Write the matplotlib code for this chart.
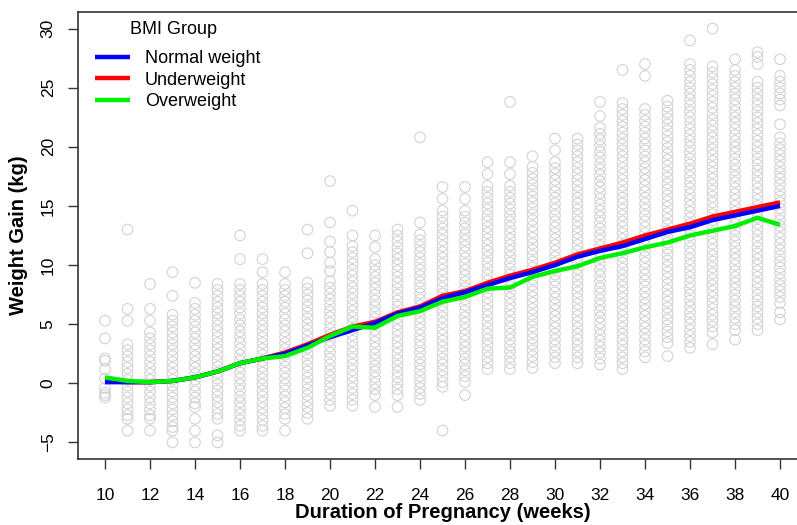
import matplotlib
matplotlib.use("Agg")
import matplotlib.pyplot as plt

plt.rcParams['font.family'] = ['Liberation Sans', 'DejaVu Sans']

# ---- data ----
weeks = list(range(10, 41))
normal_weight = [0.1, 0.1, 0.1, 0.2, 0.5, 1.0, 1.7, 2.1, 2.5, 3.2, 3.9, 4.5, 5.1, 5.9, 6.4, 7.2,
                 7.7, 8.3, 8.9, 9.4, 10.0, 10.7, 11.2, 11.6, 12.2, 12.8, 13.2, 13.8, 14.2, 14.6, 15.0]
underweight = [0.2, 0.1, 0.1, 0.2, 0.5, 1.0, 1.7, 2.1, 2.6, 3.3, 4.1, 4.8, 5.2, 6.0, 6.5, 7.4,
               7.8, 8.5, 9.1, 9.6, 10.2, 10.9, 11.4, 11.9, 12.5, 13.0, 13.5, 14.1, 14.5, 14.9, 15.3]
overweight = [0.5, 0.2, 0.1, 0.2, 0.5, 1.0, 1.7, 2.1, 2.3, 3.0, 4.0, 4.8, 4.7, 5.7, 6.1, 6.9,
              7.3, 8.0, 8.1, 9.0, 9.5, 9.9, 10.6, 11.0, 11.5, 11.9, 12.5, 12.9, 13.3, 14.0, 13.4]

w10 = [5.3, 3.8, 2.1, 1.9, 1.2, 0.4, -0.4, -0.8, -1.0, -1.2]
w11 = [13.0, 6.3, 5.3, 3.3, 2.8, 2.3, 1.8, 1.3, 0.8, 0.3, -0.2, -0.7, -1.2, -1.7, -2.2, -2.7, -3.0, -4.0]
w12 = [8.4, 6.3, 5.3, 4.3, 3.8, 3.3, 2.8, 2.3, 1.8, 1.3, 0.8, 0.3, -0.2, -0.7, -1.2, -1.7, -2.2, -2.7,
       -3.0, -4.0]
w13 = [9.4, 7.4, 5.8, 5.3, 4.8, 4.3, 3.8, 3.3, 2.8, 2.3, 1.8, 1.3, 0.8, 0.3, -0.2, -0.7, -1.2, -1.7,
       -2.2, -2.7, -3.2, -3.7, -4.0, -5.0]
w14 = [8.5, 6.8, 6.3, 5.8, 5.3, 4.8, 4.3, 3.8, 3.3, 2.8, 2.3, 1.8, 1.3, 0.8, 0.3, -0.2, -0.7, -1.2,
       -1.7, -2.0, -3.0, -4.0, -5.0]
w15 = [8.4, 7.9, 7.4, 6.9, 6.4, 5.9, 5.4, 4.9, 4.4, 3.9, 3.4, 2.9, 2.4, 1.9, 1.4, 0.9, 0.4, -0.1,
       -0.6, -1.1, -1.6, -2.1, -2.6, -3.0, -4.4, -5.0]
w16 = [12.5, 10.5, 8.4, 7.9, 7.4, 6.9, 6.4, 5.9, 5.4, 4.9, 4.4, 3.9, 3.4, 2.9, 2.4, 1.9, 1.4, 0.9,
       0.4, -0.1, -0.6, -1.1, -1.6, -2.1, -2.6, -3.1, -3.6, -4.0]
w17 = [10.5, 9.4, 8.4, 7.9, 7.4, 6.9, 6.4, 5.9, 5.4, 4.9, 4.4, 3.9, 3.4, 2.9, 2.4, 1.9, 1.4, 0.9,
       0.4, -0.1, -0.6, -1.1, -1.6, -2.1, -2.6, -3.1, -3.6, -4.0]
w18 = [9.4, 8.4, 7.9, 7.4, 6.9, 6.4, 5.9, 5.4, 4.9, 4.4, 3.9, 3.4, 2.9, 2.4, 1.9, 1.4, 0.9, 0.4,
       -0.1, -0.6, -1.1, -1.6, -2.1, -2.6, -3.0, -4.0]
w19 = [13.0, 11.0, 8.5, 8.0, 7.5, 7.0, 6.5, 6.0, 5.5, 5.0, 4.5, 4.0, 3.5, 3.0, 2.5, 2.0, 1.5, 1.0,
       0.5, 0.0, -0.5, -1.0, -1.5, -2.0, -2.5, -3.0]
w20 = [17.1, 13.6, 12.0, 11.1, 10.2, 9.5, 8.6, 8.1, 7.6, 7.1, 6.6, 6.1, 5.6, 5.1, 4.6, 4.1, 3.6, 3.1,
       2.6, 2.1, 1.6, 1.1, 0.6, 0.1, -0.4, -0.9, -1.4, -1.9]
w21 = [14.6, 12.5, 11.6, 11.1, 10.6, 10.1, 9.6, 9.1, 8.6, 8.1, 7.6, 7.1, 6.6, 6.1, 5.6, 5.1, 4.6,
       4.1, 3.6, 3.1, 2.6, 2.1, 1.6, 1.1, 0.6, 0.1, -0.4, -0.9, -1.4, -1.9]
w22 = [12.5, 11.5, 10.5, 10.0, 9.5, 9.0, 8.5, 8.0, 7.5, 7.0, 6.5, 6.0, 5.5, 5.0, 4.5, 4.0, 3.5, 3.0,
       2.5, 2.0, 1.5, 1.0, 0.5, 0.0, -0.5, -1.0, -2.0]
w23 = [13.0, 12.5, 12.0, 11.5, 11.0, 10.5, 10.0, 9.5, 9.0, 8.5, 8.0, 7.5, 7.0, 6.5, 6.0, 5.5, 5.0,
       4.5, 4.0, 3.5, 3.0, 2.5, 2.0, 1.5, 1.0, 0.5, 0.0, -0.5, -1.0, -2.0]
w24 = [20.8, 13.6, 12.6, 12.1, 11.6, 11.1, 10.6, 10.1, 9.6, 9.1, 8.6, 8.1, 7.6, 7.1, 6.6, 6.1, 5.6,
       5.1, 4.6, 4.1, 3.6, 3.1, 2.6, 2.1, 1.6, 1.1, 0.6, 0.1, -0.4, -0.9, -1.4]
w25 = [16.6, 15.6, 14.6, 14.1, 13.6, 13.1, 12.6, 12.1, 11.6, 11.1, 10.6, 10.1, 9.6, 9.1, 8.6, 8.1,
       7.6, 7.1, 6.6, 6.1, 5.6, 5.1, 4.6, 4.1, 3.6, 3.1, 2.6, 2.1, 1.6, 1.1, 0.6, 0.1, -0.3, -4.0]
w26 = [16.6, 15.6, 14.6, 14.1, 13.6, 13.1, 12.6, 12.1, 11.6, 11.1, 10.6, 10.1, 9.6, 9.1, 8.6, 8.1,
       7.6, 7.1, 6.6, 6.1, 5.6, 5.1, 4.6, 4.1, 3.6, 3.1, 2.6, 2.1, 1.6, 1.1, 0.6, 0.1, -1.0]
w27 = [18.7, 17.7, 16.7, 16.2, 15.7, 15.2, 14.7, 14.2, 13.7, 13.2, 12.7, 12.2, 11.7, 11.2, 10.7,
       10.2, 9.7, 9.2, 8.7, 8.2, 7.7, 7.2, 6.7, 6.2, 5.7, 5.2, 4.7, 4.2, 3.7, 3.2, 2.7, 2.2, 1.7, 1.2]
w28 = [23.8, 18.7, 17.7, 16.7, 16.2, 15.7, 15.2, 14.7, 14.2, 13.7, 13.2, 12.7, 12.2, 11.7, 11.2,
       10.7, 10.2, 9.7, 9.2, 8.7, 8.2, 7.7, 7.2, 6.7, 6.2, 5.7, 5.2, 4.7, 4.2, 3.7, 3.2, 2.7, 2.2, 1.7,
       1.2]
w29 = [19.2, 18.3, 17.8, 17.3, 16.8, 16.3, 15.8, 15.3, 14.8, 14.3, 13.8, 13.3, 12.8, 12.3, 11.8,
       11.3, 10.8, 10.3, 9.8, 9.3, 8.8, 8.3, 7.8, 7.3, 6.8, 6.3, 5.8, 5.3, 4.8, 4.3, 3.8, 3.3, 2.8, 2.3,
       1.8, 1.3]
w30 = [20.7, 19.7, 18.7, 18.2, 17.7, 17.2, 16.7, 16.2, 15.7, 15.2, 14.7, 14.2, 13.7, 13.2, 12.7,
       12.2, 11.7, 11.2, 10.7, 10.2, 9.7, 9.2, 8.7, 8.2, 7.7, 7.2, 6.7, 6.2, 5.7, 5.2, 4.7, 4.2, 3.7,
       3.2, 2.7, 2.2, 1.7]
w31 = [20.7, 20.2, 19.7, 19.2, 18.7, 18.2, 17.7, 17.2, 16.7, 16.2, 15.7, 15.2, 14.7, 14.2, 13.7,
       13.2, 12.7, 12.2, 11.7, 11.2, 10.7, 10.2, 9.7, 9.2, 8.7, 8.2, 7.7, 7.2, 6.7, 6.2, 5.7, 5.2, 4.7,
       4.2, 3.7, 3.2, 2.7, 2.2, 1.7]
w32 = [23.8, 22.6, 21.6, 21.1, 20.6, 20.1, 19.6, 19.1, 18.6, 18.1, 17.6, 17.1, 16.6, 16.1, 15.6,
       15.1, 14.6, 14.1, 13.6, 13.1, 12.6, 12.1, 11.6, 11.1, 10.6, 10.1, 9.6, 9.1, 8.6, 8.1, 7.6, 7.1,
       6.6, 6.1, 5.6, 5.1, 4.6, 4.1, 3.6, 3.1, 2.6, 2.1, 1.6]
w33 = [26.5, 23.7, 23.2, 22.7, 22.2, 21.7, 21.2, 20.7, 20.2, 19.7, 19.2, 18.7, 18.2, 17.7, 17.2,
       16.7, 16.2, 15.7, 15.2, 14.7, 14.2, 13.7, 13.2, 12.7, 12.2, 11.7, 11.2, 10.7, 10.2, 9.7, 9.2,
       8.7, 8.2, 7.7, 7.2, 6.7, 6.2, 5.7, 5.2, 4.7, 4.2, 3.7, 3.2, 2.7, 2.2, 1.7, 1.2]
w34 = [27.0, 26.0, 23.2, 22.7, 22.2, 21.7, 21.2, 20.7, 20.2, 19.7, 19.2, 18.7, 18.2, 17.7, 17.2,
       16.7, 16.2, 15.7, 15.2, 14.7, 14.2, 13.7, 13.2, 12.7, 12.2, 11.7, 11.2, 10.7, 10.2, 9.7, 9.2,
       8.7, 8.2, 7.7, 7.2, 6.7, 6.2, 5.7, 5.2, 4.7, 4.2, 3.7, 3.2, 2.7, 2.2]
w35 = [23.9, 23.4, 22.9, 22.4, 21.9, 21.4, 20.9, 20.4, 19.9, 19.4, 18.9, 18.4, 17.9, 17.4, 16.9,
       16.4, 15.9, 15.4, 14.9, 14.4, 13.9, 13.4, 12.9, 12.4, 11.9, 11.4, 10.9, 10.4, 9.9, 9.4, 8.9,
       8.4, 7.9, 7.4, 6.9, 6.4, 5.9, 5.4, 4.9, 4.4, 3.9, 3.4, 2.3]
w36 = [29.0, 27.0, 26.5, 26.0, 25.5, 25.0, 24.5, 24.0, 23.5, 23.0, 22.5, 22.0, 21.5, 21.0, 20.5,
       20.0, 19.5, 19.0, 18.5, 18.0, 17.5, 17.0, 16.5, 16.0, 15.5, 15.0, 14.5, 14.0, 13.5, 13.0, 12.5,
       12.0, 11.5, 11.0, 10.5, 10.0, 9.5, 9.0, 8.5, 8.0, 7.5, 7.0, 6.5, 6.0, 5.5, 5.0, 4.5, 4.0, 3.5,
       3.0]
w37 = [30.0, 26.8, 26.3, 25.8, 25.3, 24.8, 24.3, 23.8, 23.3, 22.8, 22.3, 21.8, 21.3, 20.8, 20.3,
       19.8, 19.3, 18.8, 18.3, 17.8, 17.3, 16.8, 16.3, 15.8, 15.3, 14.8, 14.3, 13.8, 13.3, 12.8, 12.3,
       11.8, 11.3, 10.8, 10.3, 9.8, 9.3, 8.8, 8.3, 7.8, 7.3, 6.8, 6.3, 5.8, 5.3, 4.8, 4.3, 3.3]
w38 = [27.4, 26.5, 26.0, 25.5, 25.0, 24.5, 24.0, 23.5, 23.0, 22.5, 22.0, 21.5, 21.0, 20.5, 20.0,
       19.5, 19.0, 18.5, 18.0, 17.5, 17.0, 16.5, 16.0, 15.5, 15.0, 14.5, 14.0, 13.5, 13.0, 12.5, 12.0,
       11.5, 11.0, 10.5, 10.0, 9.5, 9.0, 8.5, 8.0, 7.5, 7.0, 6.5, 6.0, 5.5, 5.0, 4.5, 3.7]
w39 = [28.0, 27.6, 27.0, 25.5, 25.0, 24.5, 24.0, 23.5, 23.0, 22.5, 22.0, 21.5, 21.0, 20.5, 20.0,
       19.5, 19.0, 18.5, 18.0, 17.5, 17.0, 16.5, 16.0, 15.5, 15.0, 14.5, 14.0, 13.5, 13.0, 12.5, 12.0,
       11.5, 11.0, 10.5, 10.0, 9.5, 9.0, 8.5, 8.0, 7.5, 7.0, 6.5, 6.0, 5.5, 5.0, 4.5]
w40 = [27.4, 26.0, 25.5, 25.0, 24.5, 24.0, 23.5, 21.9, 20.8, 20.3, 19.8, 19.3, 18.8, 18.3, 17.8,
       17.3, 16.8, 16.3, 15.8, 15.3, 14.8, 14.3, 13.8, 13.3, 12.8, 12.3, 11.8, 11.3, 10.8, 10.3, 9.8,
       9.3, 8.8, 8.3, 7.8, 7.3, 6.8, 6.0, 5.4]

week_points = [w10, w11, w12, w13, w14, w15, w16, w17, w18, w19, w20, w21, w22, w23, w24, w25,
               w26, w27, w28, w29, w30, w31, w32, w33, w34, w35, w36, w37, w38, w39, w40]

x_ticks = list(range(10, 41, 2))
y_ticks = [-5, 0, 5, 10, 15, 20, 25, 30]

# ---- figure ----
W, H = 797, 525
fig = plt.figure(figsize=(W / 100, H / 100), dpi=100)
ax_l, ax_r, ax_t, ax_b = 78, 807, 12, 459
ax = fig.add_axes([ax_l / W, 1 - ax_b / H, (ax_r - ax_l) / W, (ax_b - ax_t) / H])

xs, ys = [], []
for wk, pts in zip(weeks, week_points):
    xs.extend([wk] * len(pts))
    ys.extend(pts)
ax.scatter(xs, ys, s=58, facecolors='none', edgecolors='#d3d3d3', linewidths=0.8, zorder=1)

ax.plot(weeks, normal_weight, color='#0000ff', lw=3.2, label='Normal weight', zorder=3,
        solid_capstyle='butt')
ax.plot(weeks, underweight, color='#ff0000', lw=3.2, label='Underweight', zorder=2.9,
        solid_capstyle='butt')
ax.plot(weeks, overweight, color='#00ee00', lw=3.2, label='Overweight', zorder=3.1,
        solid_capstyle='butt')

ax.set_xlim(8.8, 41.2)
ax.set_ylim(-6.4, 31.4)
ax.set_xticks(x_ticks)
ax.set_yticks(y_ticks)
ax.tick_params(axis='both', direction='out', length=7, width=1, labelsize=12.5, color='#333333')
ax.tick_params(axis='x', pad=14)
ax.tick_params(axis='y', pad=9)
for lab in ax.get_yticklabels():
    lab.set_rotation(90)
    lab.set_va('center')
for sp in ax.spines.values():
    sp.set_linewidth(1.2)
    sp.set_color('#333333')

ax.set_xlabel('Duration of Pregnancy (weeks)', fontsize=14.5, fontweight='bold', labelpad=0)
ax.set_ylabel('Weight Gain (kg)', fontsize=14.5, fontweight='bold', labelpad=9)

handles, labels = ax.get_legend_handles_labels()
leg = ax.legend(handles, labels,
                loc='upper left', bbox_to_anchor=(95 / W, 1 - 50 / H), bbox_transform=fig.transFigure,
                frameon=False, fontsize=13, handlelength=1.95, borderpad=0,
                handletextpad=0.8, labelspacing=0.26, borderaxespad=0)
for line in leg.get_lines():
    line.set_linewidth(3.2)
fig.text(174 / W, 1 - 29 / H, 'BMI Group', fontsize=13, ha='center', va='center')

fig.savefig('out.png', dpi=100)
